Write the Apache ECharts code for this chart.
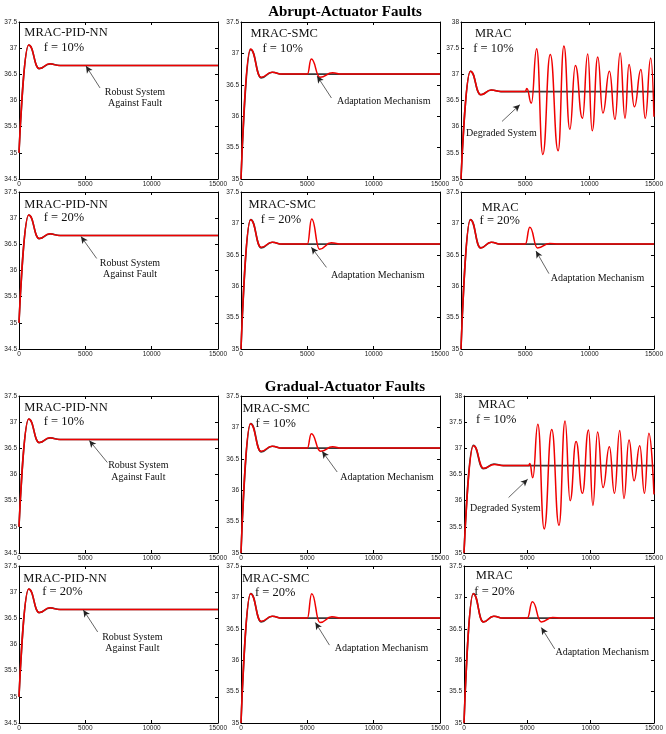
<!DOCTYPE html>
<html>
<head>
<meta charset="utf-8">
<script src="https://cdn.jsdelivr.net/npm/echarts@6/dist/echarts.min.js"></script>
<style>
  html, body { margin: 0; padding: 0; background: #fff; }
  #chart { width: 666px; height: 734px; }
</style>
</head>
<body>
<div id="chart"></div>
<script>
// ---- data: [time, temperature] turning points of each response ----
const xTicks = [0, 5000, 10000, 15000];
const sectionTitles = ['Abrupt-Actuator Faults', 'Gradual-Actuator Faults'];
const modelNames = ['MRAC-PID-NN', 'MRAC-SMC', 'MRAC'];
const faultLevels = ['f = 10%', 'f = 20%', 'f = 10%', 'f = 20%'];
const noteTexts = ['Robust System\nAgainst Fault', 'Adaptation Mechanism', 'Degraded System', 'Adaptation Mechanism'];

// y-axis ranges per row / column
const yMinByRow = [[34.5, 35, 35], [34.5, 35, 35], [34.5, 35, 35], [34.5, 35, 35]];
const yMaxByRow = [[37.5, 37.5, 38], [37.5, 37.5, 37.5], [37.5, 37.5, 38], [37.5, 37.5, 37.5]];

// reference model output
const referenceModel = [[0, 35], [730, 37.06], [1530, 36.61], [2350, 36.70], [3100, 36.67], [15000, 36.67]];

// abrupt actuator faults
const abruptPidNn10 = [[0, 35], [730, 37.06], [1530, 36.61], [2300, 36.70], [3000, 36.67], [15000, 36.67]];
const abruptSmc10 = [[0, 35], [710, 37.07], [1510, 36.62], [2340, 36.70], [3100, 36.67], [5000, 36.67], [5300, 36.91], [5950, 36.62], [6900, 36.69], [7600, 36.67], [15000, 36.67]];
const abruptMrac10 = [[0, 35], [730, 37.06], [1540, 36.61], [2350, 36.70], [3100, 36.67], [5000, 36.67], [5120, 36.73], [5470, 36.45], [5880, 37.49], [6360, 35.47], [6940, 37.38], [7550, 35.54], [8000, 37.54], [8460, 35.95], [8890, 37.17], [9440, 36.16], [9850, 37.39], [10200, 35.92], [10630, 37.33], [11030, 36.26], [11540, 37.06], [11970, 36.14], [12370, 37.41], [12750, 36.16], [13060, 37.19], [13480, 36.38], [13990, 37.09], [14320, 36.16], [14750, 37.31], [15000, 36.19]];
const abruptPidNn20 = [[0, 35], [730, 37.06], [1530, 36.61], [2300, 36.70], [3000, 36.67], [15000, 36.67]];
const abruptSmc20 = [[0, 35], [720, 37.06], [1520, 36.62], [2350, 36.70], [3100, 36.67], [5000, 36.67], [5330, 37.07], [5920, 36.59], [6800, 36.69], [7600, 36.67], [15000, 36.67]];
const abruptMrac20 = [[0, 35], [730, 37.06], [1530, 36.61], [2350, 36.70], [3100, 36.67], [5000, 36.67], [5350, 36.94], [5950, 36.61], [6900, 36.68], [7600, 36.67], [15000, 36.67]];

// gradual actuator faults
const gradualPidNn10 = [[0, 35], [730, 37.06], [1530, 36.61], [2300, 36.70], [3000, 36.67], [15000, 36.67]];
const gradualSmc10 = [[0, 35], [710, 37.06], [1510, 36.62], [2340, 36.70], [3100, 36.67], [5000, 36.67], [5300, 36.90], [6000, 36.62], [6900, 36.69], [7600, 36.67], [15000, 36.67]];
const gradualMrac10 = [[0, 35], [750, 37.05], [1550, 36.62], [2400, 36.69], [3100, 36.67], [5100, 36.67], [5200, 36.71], [5430, 36.44], [5830, 37.46], [6330, 35.46], [6930, 37.36], [7500, 35.53], [7980, 37.52], [8380, 36.0], [8850, 37.13], [9350, 36.14], [9830, 37.35], [10180, 35.91], [10550, 37.31], [10980, 36.25], [11480, 37.03], [11880, 36.14], [12300, 37.34], [12630, 36.04], [13030, 37.16], [13430, 36.38], [13880, 37.05], [14250, 36.14], [14600, 37.29], [15000, 36.12]];
const gradualPidNn20 = [[0, 35], [730, 37.06], [1530, 36.61], [2300, 36.70], [3000, 36.67], [15000, 36.67]];
const gradualSmc20 = [[0, 35], [720, 37.06], [1520, 36.62], [2350, 36.70], [3100, 36.67], [5000, 36.67], [5330, 37.06], [5950, 36.60], [6850, 36.69], [7600, 36.67], [15000, 36.67]];
const gradualMrac20 = [[0, 35], [730, 37.06], [1530, 36.61], [2350, 36.70], [3100, 36.67], [5000, 36.67], [5400, 36.93], [6100, 36.61], [7000, 36.68], [7700, 36.67], [15000, 36.67]];

const responses = [
  [abruptPidNn10, abruptSmc10, abruptMrac10],
  [abruptPidNn20, abruptSmc20, abruptMrac20],
  [gradualPidNn10, gradualSmc10, gradualMrac10],
  [gradualPidNn20, gradualSmc20, gradualMrac20]
];
// which note belongs to each panel (index into noteTexts)
const noteOfPanel = [
  [0, 1, 2],
  [0, 1, 3],
  [0, 1, 2],
  [0, 1, 3]
];

// ---- layout (pixels) ----
const rowTops = [22, 192, 396, 566];
const plotH = 157;
const colLefts = [[19, 241, 461], [19, 241, 461], [19, 241, 464], [19, 241, 464]];
const plotW = 199;
const titleY = [11, 386];

// annotation placement in each panel's own data space:
// name, fault level, arrow head, arrow tail, note text centre
const annotationPlacement = [
  [
    { name: [3543, 37.29], fault: [3392, 37.0], head: [5050, 36.66], tail: [6106, 36.24], note: [8744, 36.05] },
    { name: [3258, 37.32], fault: [3144, 37.08], head: [5735, 36.64], tail: [6818, 36.29], note: [10757, 36.23] },
    { name: [2510, 37.78], fault: [2525, 37.49], head: [4575, 36.42], tail: [3189, 36.10], note: [3143, 35.87] }
  ],
  [
    { name: [3543, 37.26], fault: [3392, 37.0], head: [4673, 36.65], tail: [5855, 36.23], note: [8367, 36.03] },
    { name: [3106, 37.29], fault: [3015, 37.06], head: [5303, 36.62], tail: [6439, 36.30], note: [10303, 36.18] },
    { name: [3038, 37.25], fault: [3015, 37.04], head: [5827, 36.56], tail: [6837, 36.20], note: [10613, 36.12] }
  ],
  [
    { name: [3543, 37.28], fault: [3392, 37.01], head: [5300, 36.65], tail: [6656, 36.23], note: [8995, 36.06] },
    { name: [2652, 37.29], fault: [2614, 37.06], head: [6114, 36.62], tail: [7250, 36.29], note: [11008, 36.21] },
    { name: [2585, 37.83], fault: [2548, 37.55], head: [5028, 36.41], tail: [3520, 36.06], note: [3264, 35.85] }
  ],
  [
    { name: [3467, 37.26], fault: [3279, 37.0], head: [4849, 36.66], tail: [5930, 36.24], note: [8543, 36.03] },
    { name: [2614, 37.29], fault: [2576, 37.07], head: [5606, 36.60], tail: [6667, 36.24], note: [10591, 36.19] },
    { name: [2389, 37.34], fault: [2412, 37.09], head: [6106, 36.52], tail: [7161, 36.18], note: [10915, 36.13] }
  ]
];

// ---- build option ----
const SERIF = '"Liberation Serif", "Times New Roman", serif';
const SANS = '"Liberation Sans", Arial, sans-serif';
const grids = [], xAxes = [], yAxes = [], series = [];

for (let r = 0; r < 4; r++) {
  for (let c = 0; c < 3; c++) {
    const g = grids.length;
    grids.push({ left: colLefts[r][c], top: rowTops[r], width: plotW, height: plotH, show: false });

    const xBase = {
      gridIndex: g, type: 'value', min: xTicks[0], max: xTicks[xTicks.length - 1],
      interval: xTicks[1] - xTicks[0],
      axisLine: { show: true, onZero: false, lineStyle: { color: '#000', width: 1 } },
      axisTick: { show: true, inside: true, length: 3, lineStyle: { color: '#000' } },
      splitLine: { show: false }
    };
    xAxes.push(Object.assign({}, xBase, {
      position: 'bottom',
      axisLabel: { show: true, margin: 2, fontSize: 6.5, color: '#222', fontFamily: SANS,
                   formatter: v => String(v) }
    }));
    xAxes.push(Object.assign({}, xBase, { position: 'top', axisLabel: { show: false } }));

    const yBase = {
      gridIndex: g, type: 'value', min: yMinByRow[r][c], max: yMaxByRow[r][c], interval: 0.5,
      axisLine: { show: true, onZero: false, lineStyle: { color: '#000', width: 1 } },
      axisTick: { show: true, inside: true, length: 3, lineStyle: { color: '#000' } },
      splitLine: { show: false }
    };
    yAxes.push(Object.assign({}, yBase, {
      position: 'left',
      axisLabel: { show: true, margin: 2, fontSize: 6.5, color: '#222', fontFamily: SANS,
                   formatter: v => String(v) }
    }));
    yAxes.push(Object.assign({}, yBase, { position: 'right', axisLabel: { show: false } }));

    const xi = g * 2, yi = g * 2;
    const place = annotationPlacement[r][c];
    const textPoint = (coord, text, size) => ({
      coord: coord, value: 0,
      label: { show: true, position: 'inside', formatter: text, fontFamily: SERIF,
               fontSize: size, color: '#111', lineHeight: size * 1.18, align: 'center' }
    });

    // reference model (dark line)
    series.push({
      type: 'line', xAxisIndex: xi, yAxisIndex: yi, data: referenceModel,
      showSymbol: false, smooth: 0.5, smoothMonotone: 'x',
      lineStyle: { color: '#3a3a3a', width: 1.6 }, z: 2, silent: true
    });
    // plant output (red) with annotations
    series.push({
      type: 'line', xAxisIndex: xi, yAxisIndex: yi, data: responses[r][c],
      showSymbol: false, smooth: 0.5, smoothMonotone: 'x',
      lineStyle: { color: '#f00000', width: 1.5 }, z: 3, silent: true,
      markLine: {
        silent: true, symbol: ['none', 'arrow'], symbolSize: [5, 7],
        label: { show: false },
        lineStyle: { color: '#222', width: 0.7, type: 'solid' },
        data: [[{ coord: place.tail }, { coord: place.head }]]
      },
      markPoint: {
        silent: true, symbol: 'circle', symbolSize: 1,
        itemStyle: { color: 'rgba(0,0,0,0)' },
        data: [
          textPoint(place.name, modelNames[c], 12.5),
          textPoint(place.fault, faultLevels[r], 12.5),
          textPoint(place.note, noteTexts[noteOfPanel[r][c]], 10)
        ]
      }
    });
  }
}

const option = {
  animation: false,
  backgroundColor: '#fff',
  title: sectionTitles.map((t, i) => ({
    text: t, left: 340, top: titleY[i] - 11, textAlign: 'center',
    textStyle: { fontFamily: SERIF, fontWeight: 'bold', fontSize: 15, color: '#000' }
  })),
  grid: grids,
  xAxis: xAxes,
  yAxis: yAxes,
  series: series
};

const chart = echarts.init(document.getElementById('chart'), null, { renderer: 'canvas' });
chart.setOption(option);
</script>
</body>
</html>
